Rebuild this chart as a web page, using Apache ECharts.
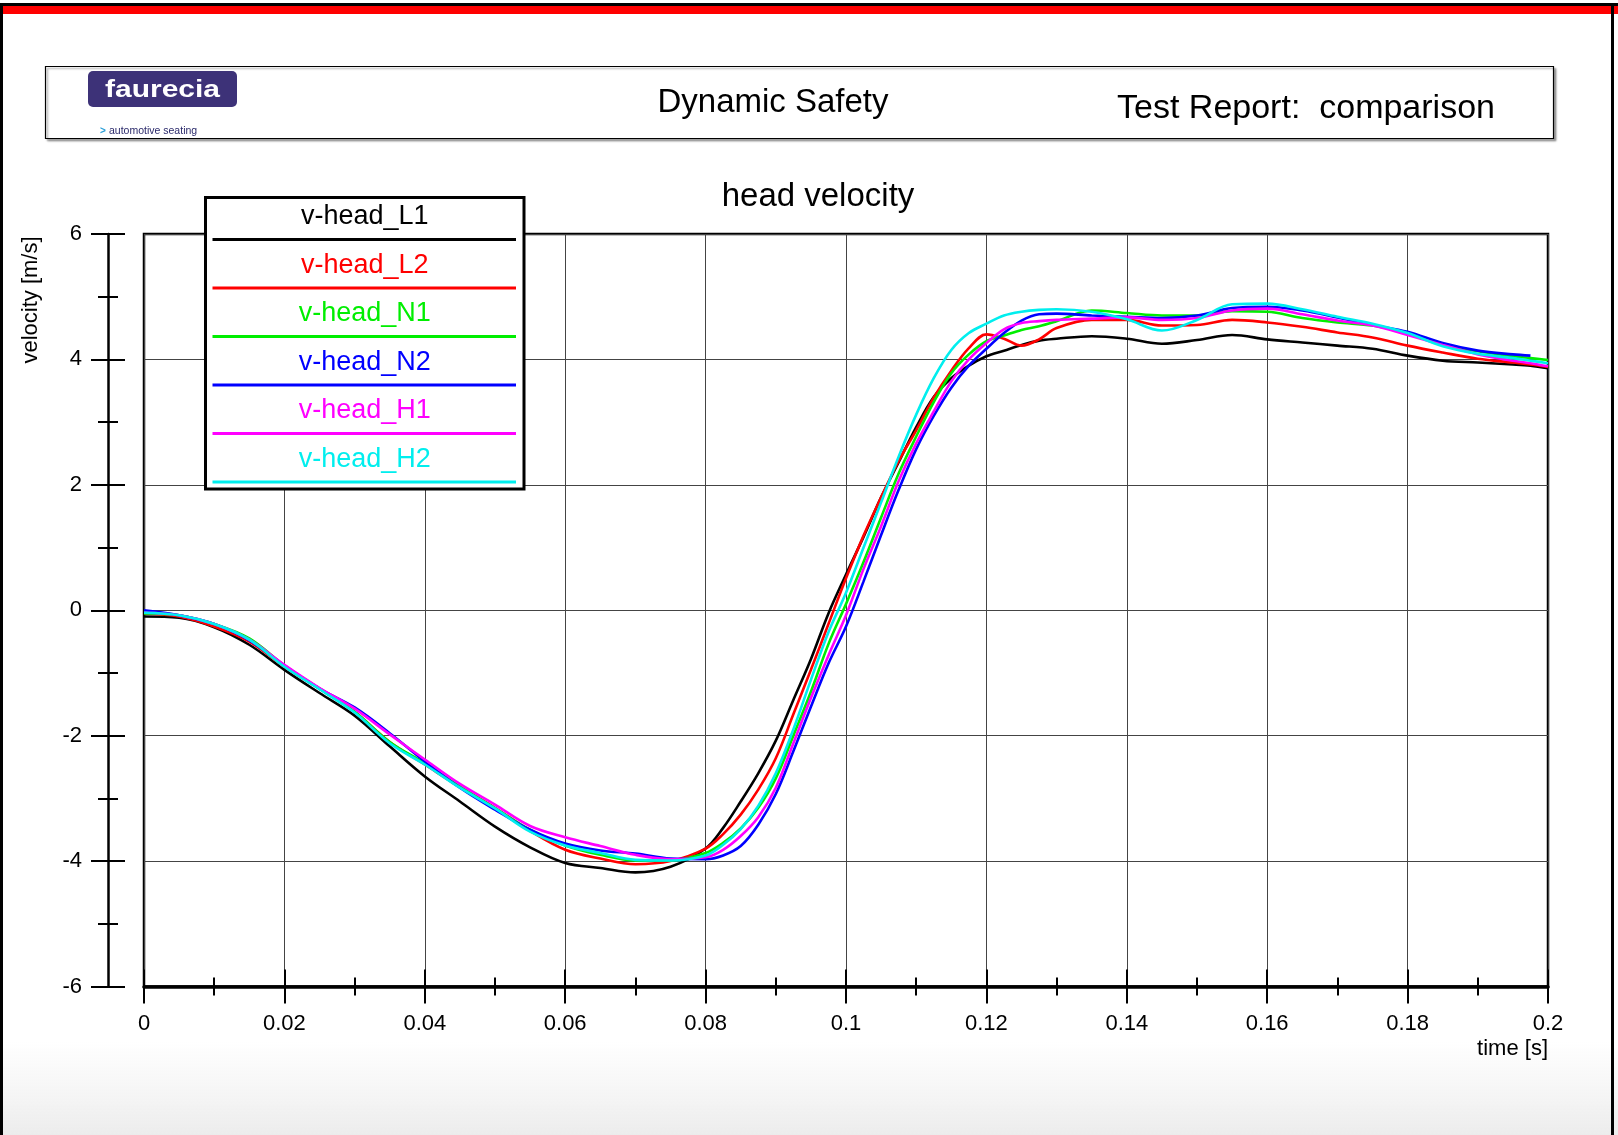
<!DOCTYPE html>
<html>
<head>
<meta charset="utf-8">
<script src="https://cdn.jsdelivr.net/npm/echarts@6/dist/echarts.min.js"></script>
<style>
html,body{margin:0;padding:0;background:#fff;}
#c{width:1618px;height:1135px;}
</style>
</head>
<body>
<div id="c"></div>
<script>
// ---- data ----
const T = [0, 0.005, 0.01, 0.015, 0.02, 0.025, 0.03, 0.035, 0.04, 0.045, 0.05, 0.055, 0.06, 0.065, 0.07, 0.075, 0.08,
  0.0825, 0.085, 0.0875, 0.09, 0.0925, 0.095, 0.0975, 0.1, 0.1025, 0.105, 0.1075, 0.11, 0.1125, 0.115, 0.1175, 0.12, 0.1225, 0.125, 0.1275, 0.13,
  0.135, 0.14, 0.145, 0.15, 0.155, 0.16, 0.165, 0.17, 0.175, 0.18, 0.185, 0.19, 0.195, 0.1975, 0.2];

const L1 = [-0.10, -0.12, -0.27, -0.55, -0.95, -1.32, -1.68, -2.17, -2.65, -3.05, -3.45, -3.78, -4.03, -4.11, -4.18, -4.09, -3.80,
  -3.47, -3.05, -2.60, -2.08, -1.43, -0.78, -0.05, 0.57, 1.17, 1.80, 2.36, 2.92, 3.40, 3.70, 3.90, 4.05, 4.14, 4.23, 4.30, 4.33,
  4.37, 4.33, 4.25, 4.31, 4.39, 4.32, 4.27, 4.22, 4.17, 4.06, 3.98, 3.95, 3.92, 3.90, 3.86];
const L2 = [-0.05, -0.10, -0.26, -0.50, -0.90, -1.25, -1.62, -2.10, -2.46, -2.82, -3.15, -3.52, -3.82, -3.96, -4.05, -4.00, -3.80,
  -3.57, -3.26, -2.86, -2.36, -1.66, -0.95, -0.22, 0.51, 1.19, 1.80, 2.38, 2.87, 3.39, 3.82, 4.18, 4.40, 4.33, 4.22, 4.32, 4.50,
  4.63, 4.63, 4.54, 4.55, 4.63, 4.59, 4.52, 4.43, 4.35, 4.22, 4.11, 4.01, 3.95, 3.92, 3.88];
const N1 = [-0.05, -0.08, -0.22, -0.45, -0.88, -1.25, -1.62, -2.10, -2.44, -2.81, -3.16, -3.50, -3.75, -3.90, -3.99, -3.99, -3.87,
  -3.71, -3.48, -3.15, -2.68, -2.00, -1.30, -0.54, 0.10, 0.77, 1.48, 2.18, 2.77, 3.32, 3.78, 4.08, 4.29, 4.38, 4.47, 4.53, 4.61,
  4.78, 4.74, 4.70, 4.70, 4.77, 4.76, 4.66, 4.59, 4.54, 4.42, 4.24, 4.13, 4.05, 4.02, 3.99];
const N2 = [0.00, -0.08, -0.22, -0.48, -0.88, -1.25, -1.55, -1.96, -2.41, -2.83, -3.18, -3.50, -3.72, -3.83, -3.88, -3.96, -3.97,
  -3.91, -3.76, -3.42, -2.93, -2.25, -1.54, -0.85, -0.26, 0.46, 1.20, 1.92, 2.57, 3.10, 3.55, 3.90, 4.17, 4.42, 4.62, 4.72, 4.73,
  4.70, 4.68, 4.66, 4.70, 4.82, 4.84, 4.78, 4.67, 4.55, 4.44, 4.26, 4.14, 4.08, 4.06, null];
const H1 = [-0.04, -0.08, -0.22, -0.47, -0.87, -1.24, -1.57, -1.98, -2.38, -2.77, -3.10, -3.44, -3.62, -3.76, -3.90, -3.97, -3.94,
  -3.82, -3.60, -3.30, -2.83, -2.12, -1.40, -0.72, -0.08, 0.66, 1.34, 2.06, 2.66, 3.17, 3.65, 4.00, 4.26, 4.48, 4.58, 4.61, 4.63,
  4.65, 4.67, 4.63, 4.66, 4.78, 4.81, 4.72, 4.62, 4.54, 4.39, 4.23, 4.08, 3.98, 3.94, 3.89];
const H2 = [-0.04, -0.08, -0.22, -0.47, -0.90, -1.26, -1.63, -2.12, -2.46, -2.83, -3.16, -3.53, -3.75, -3.87, -3.98, -3.99, -3.91,
  -3.74, -3.49, -3.12, -2.60, -1.90, -1.11, -0.35, 0.28, 1.00, 1.72, 2.45, 3.12, 3.70, 4.15, 4.42, 4.57, 4.70, 4.76, 4.79, 4.80,
  4.76, 4.64, 4.46, 4.63, 4.88, 4.89, 4.80, 4.68, 4.57, 4.42, 4.21, 4.09, 4.02, 3.98, 3.94];

const seriesNames = ['v-head_L1', 'v-head_L2', 'v-head_N1', 'v-head_N2', 'v-head_H1', 'v-head_H2'];
const seriesValues = [L1, L2, N1, N2, H1, H2];
const xTicks = { min: 0, max: 0.2, step: 0.02 };
const yTicks = { min: -6, max: 6, step: 2 };

const chartTitle = 'head velocity';
const xName = 'time [s]';
const yName = 'velocity [m/s]';
const headerCenter = 'Dynamic Safety';
const headerRight = 'Test Report:  comparison';

// ---- styles ----
const colors = ['#000000', '#ff0000', '#00ee00', '#0000ff', '#ff00ff', '#00eeee'];
const FONT = '"Liberation Sans", Arial, Helvetica, sans-serif';

const chart = echarts.init(document.getElementById('c'), null, { renderer: 'canvas' });

const gridBox = { left: 144, top: 234, width: 1404, height: 752.5 };

function pairs(vals) {
  return T.map((t, i) => [t, vals[i]]);
}

const series = seriesValues.map((vals, i) => ({
  name: seriesNames[i],
  type: 'line',
  data: pairs(vals),
  xAxisIndex: 0,
  yAxisIndex: 0,
  showSymbol: false,
  smooth: 0.35,
  connectNulls: false,
  lineStyle: { color: colors[i], width: 2.6 },
  itemStyle: { color: colors[i] },
  z: 3 + i,
  animation: false
}));

// legend drawn as graphic (text above a line sample)
const legendLeft = 205.5, legendTop = 197.5, legendW = 318.5, legendH = 291.5;
const legendEls = [{
  type: 'rect',
  shape: { x: legendLeft, y: legendTop, width: legendW, height: legendH },
  style: { fill: '#fff', stroke: '#000', lineWidth: 3 },
  z: 50
}];
seriesNames.forEach((n, i) => {
  const yTxt = 217 + i * 48.5;
  const yLine = 239.5 + i * 48.5;
  legendEls.push({
    type: 'text', z: 51,
    style: { text: n, x: legendLeft + legendW / 2, y: yTxt, textAlign: 'center', textVerticalAlign: 'middle',
      font: '27px ' + FONT, fill: colors[i] }
  });
  legendEls.push({
    type: 'line', z: 51,
    shape: { x1: 212.5, y1: yLine, x2: 516, y2: yLine },
    style: { stroke: colors[i], lineWidth: 3 }
  });
});

const graphics = [
  // faint grey band at the bottom (background texture)
  { type: 'rect', z: -10, shape: { x: 0, y: 1040, width: 1618, height: 95 },
    style: { fill: new echarts.graphic.LinearGradient(0, 0, 0, 1, [
      { offset: 0, color: 'rgba(240,240,240,0)' }, { offset: 1, color: 'rgba(236,236,236,1)' }]) } },
  // page frame
  { type: 'rect', z: 60, shape: { x: 0, y: 3, width: 1618, height: 3 }, style: { fill: '#000' } },
  { type: 'rect', z: 60, shape: { x: 0, y: 6, width: 1618, height: 8 }, style: { fill: '#ff0000' } },
  { type: 'rect', z: 60, shape: { x: 0, y: 6, width: 3, height: 1129 }, style: { fill: '#000' } },
  { type: 'rect', z: 60, shape: { x: 1611, y: 6, width: 3, height: 1129 }, style: { fill: '#000' } },
  // header box
  { type: 'rect', z: 20, shape: { x: 45.5, y: 66.5, width: 1508, height: 72 },
    style: { fill: '#fff', stroke: '#000', lineWidth: 1.2, shadowColor: 'rgba(0,0,0,0.35)', shadowOffsetX: 2, shadowOffsetY: 2, shadowBlur: 2 } },
  { type: 'rect', z: 21, shape: { x: 88, y: 71, width: 149, height: 36, r: 5 }, style: { fill: '#3d3278' } },
  { type: 'text', z: 22, x: 162.5, y: 90, scaleX: 1.25,
    style: { text: 'faurecia', x: 0, y: 0, textAlign: 'center', textVerticalAlign: 'middle', font: 'bold 24px ' + FONT, fill: '#fff' } },
  { type: 'text', z: 22, style: { text: '>', x: 100, y: 131, textVerticalAlign: 'middle', font: 'bold 10px ' + FONT, fill: '#2a9fd8' } },
  { type: 'text', z: 22, style: { text: 'automotive seating', x: 109, y: 131, textVerticalAlign: 'middle', font: '10.5px ' + FONT, fill: '#2b2a6b' } },
  { type: 'text', z: 22, style: { text: headerCenter, x: 773, y: 103, textAlign: 'center', textVerticalAlign: 'middle', font: '33px ' + FONT, fill: '#000' } },
  { type: 'text', z: 22, style: { text: headerRight, x: 1306, y: 109, textAlign: 'center', textVerticalAlign: 'middle', font: '34px ' + FONT, fill: '#000' } },
  // chart title
  { type: 'text', z: 22, style: { text: chartTitle, x: 818, y: 196.5, textAlign: 'center', textVerticalAlign: 'middle', font: '33px ' + FONT, fill: '#000' } },
  // axis names
  { type: 'text', z: 22, x: 31, y: 300, rotation: Math.PI / 2,
    style: { text: yName, x: 0, y: 0, textAlign: 'center', textVerticalAlign: 'middle', font: '22px ' + FONT, fill: '#000' } },
  { type: 'text', z: 22, style: { text: xName, x: 1548, y: 1049, textAlign: 'right', textVerticalAlign: 'middle', font: '22px ' + FONT, fill: '#000' } }
].concat(legendEls);

const axisCommonX = {
  type: 'value', min: xTicks.min, max: xTicks.max, interval: xTicks.step,
  position: 'bottom', gridIndex: 0
};
const axisCommonY = {
  type: 'value', min: yTicks.min, max: yTicks.max, interval: yTicks.step,
  position: 'left', gridIndex: 0, offset: 36
};

const option = {
  backgroundColor: 'transparent',
  animation: false,
  grid: Object.assign({ show: true, borderColor: '#000', borderWidth: 2.5, backgroundColor: 'transparent', containLabel: false }, gridBox),
  xAxis: [
    Object.assign({}, axisCommonX, {
      axisLine: { show: true, onZero: false, lineStyle: { color: '#000', width: 3.5 } },
      axisTick: { show: true, inside: false, length: 17, lineStyle: { color: '#000', width: 2 } },
      minorTick: { show: true, splitNumber: 2, length: 9, lineStyle: { color: '#000', width: 2 } },
      axisLabel: { show: true, margin: 26, fontSize: 22, fontFamily: FONT, color: '#000',
        formatter: v => String(+v.toFixed(2)) },
      splitLine: { show: true, lineStyle: { color: '#444', width: 1 } }
    }),
    Object.assign({}, axisCommonX, {
      axisLine: { show: false, onZero: false },
      axisTick: { show: true, inside: true, length: 17, lineStyle: { color: '#000', width: 2 } },
      minorTick: { show: true, splitNumber: 2, length: 9, lineStyle: { color: '#000', width: 2 } },
      axisLabel: { show: false },
      splitLine: { show: false }
    })
  ],
  yAxis: [
    Object.assign({}, axisCommonY, {
      axisLine: { show: true, onZero: false, lineStyle: { color: '#000', width: 2.5 } },
      axisTick: { show: true, inside: false, length: 17, lineStyle: { color: '#000', width: 2 } },
      minorTick: { show: true, splitNumber: 2, length: 10, lineStyle: { color: '#000', width: 2 } },
      axisLabel: { show: true, margin: 26, fontSize: 22, fontFamily: FONT, color: '#000' },
      splitLine: { show: true, lineStyle: { color: '#444', width: 1 } }
    }),
    Object.assign({}, axisCommonY, {
      axisLine: { show: false, onZero: false },
      axisTick: { show: true, inside: true, length: 17, lineStyle: { color: '#000', width: 2 } },
      minorTick: { show: true, splitNumber: 2, length: 10, lineStyle: { color: '#000', width: 2 } },
      axisLabel: { show: false },
      splitLine: { show: false }
    })
  ],
  graphic: { elements: graphics },
  series: series
};

chart.setOption(option);
</script>
</body>
</html>
